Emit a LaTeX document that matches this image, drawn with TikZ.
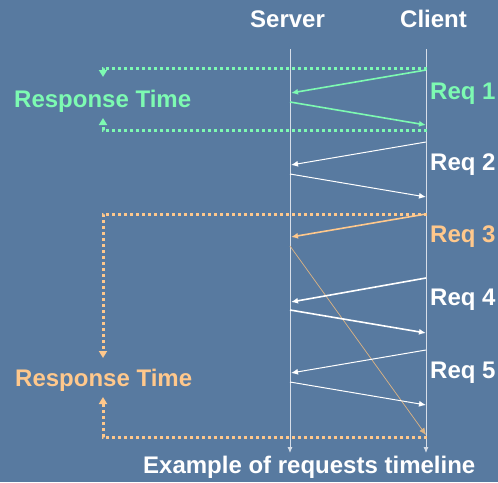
\documentclass[tikz,border=0pt]{standalone}
\usepackage{fontspec}
\setmainfont{Liberation Sans}
\usetikzlibrary{arrows.meta}
\definecolor{bg}{RGB}{88,122,160}
\definecolor{mint}{RGB}{125,250,178}
\definecolor{peach}{RGB}{255,200,140}
\definecolor{peachdim}{RGB}{222,180,130}
\definecolor{axis}{RGB}{215,222,232}
\begin{document}
\begin{tikzpicture}[x=1pt,y=-1pt,
  lbl/.style={anchor=base west, inner sep=0pt, font=\fontsize{24}{28}\selectfont\bfseries},
  timeline/.style={draw=axis, line width=0.9pt, -{Latex[length=6pt,width=5pt]}},
  msg/.style={line width=1pt, -{Latex[length=7pt,width=6pt]}},
  heavy/.style={line width=1.6pt},
  span/.style={line width=3pt, dash pattern=on 3pt off 3pt, -{Triangle[length=7pt,width=8pt]}}]

% background
\fill[bg] (0,0) rectangle (498,482);
\useasboundingbox (0,0) rectangle (498,482);

% headings
\node[lbl, white] (srv) at (250,27) {Server};
\node[lbl, white] (cli) at (400,27) {Client};
\node[lbl, white] (cap) at (143,473) {Example of requests timeline};

% timelines
\coordinate (s0) at (290,49); \coordinate (s1) at (290,453);
\coordinate (c0) at (426,49); \coordinate (c1) at (426,453);
\draw[timeline] (s0) -- (s1);
\draw[timeline] (c0) -- (c1);

% request labels
\node[lbl, mint]  (r1) at (430,99)  {Req 1};
\node[lbl, white] (r2) at (430,170) {Req 2};
\node[lbl, peach] (r3) at (430,242) {Req 3};
\node[lbl, white] (r4) at (430,305) {Req 4};
\node[lbl, white] (r5) at (430,378) {Req 5};

% response time labels
\node[lbl, mint]  (rtg) at (14,107) {Response Time};
\node[lbl, peach] (rto) at (15,386) {Response Time};

% message endpoints
\coordinate (a1) at (426,70);  \coordinate (b1) at (291,93);
\coordinate (a1r) at (290,102); \coordinate (b1r) at (426,125);
\coordinate (a2) at (426,142); \coordinate (b2) at (291,165);
\coordinate (a2r) at (290,174); \coordinate (b2r) at (426,197);
\coordinate (a3) at (426,214); \coordinate (b3) at (291,237);
\coordinate (a3r) at (290,246); \coordinate (b3r) at (426,435);
\coordinate (a4) at (426,278); \coordinate (b4) at (291,302);
\coordinate (a4r) at (290,310); \coordinate (b4r) at (426,333);
\coordinate (a5) at (426,350); \coordinate (b5) at (291,373);
\coordinate (a5r) at (290,382); \coordinate (b5r) at (426,405);

% messages
\draw[msg, heavy, mint] (a1) -- (b1);
\draw[msg, heavy, mint] (a1r) -- (b1r);
\draw[msg, white] (a2) -- (b2);
\draw[msg, white] (a2r) -- (b2r);
\draw[msg, heavy, peach] (a3) -- (b3);
\draw[msg, peachdim, line width=0.7pt] (a3r) -- (b3r);
\draw[msg, heavy, white] (a4) -- (b4);
\draw[msg, heavy, white] (a4r) -- (b4r);
\draw[msg, white] (a5) -- (b5);
\draw[msg, white] (a5r) -- (b5r);

% response time spans
\coordinate (g0) at (427,68);  \coordinate (g0t) at (103,77);
\coordinate (g1) at (427,130); \coordinate (g1t) at (103,118);
\coordinate (o0) at (427,214); \coordinate (o0t) at (103,358);
\coordinate (o1) at (427,437); \coordinate (o1t) at (103,397);
\draw[span, mint]  (g0) -| (g0t);
\draw[span, mint]  (g1) -| (g1t);
\draw[span, peach] (o0) -| (o0t);
\draw[span, peach] (o1) -| (o1t);
\end{tikzpicture}
\end{document}
